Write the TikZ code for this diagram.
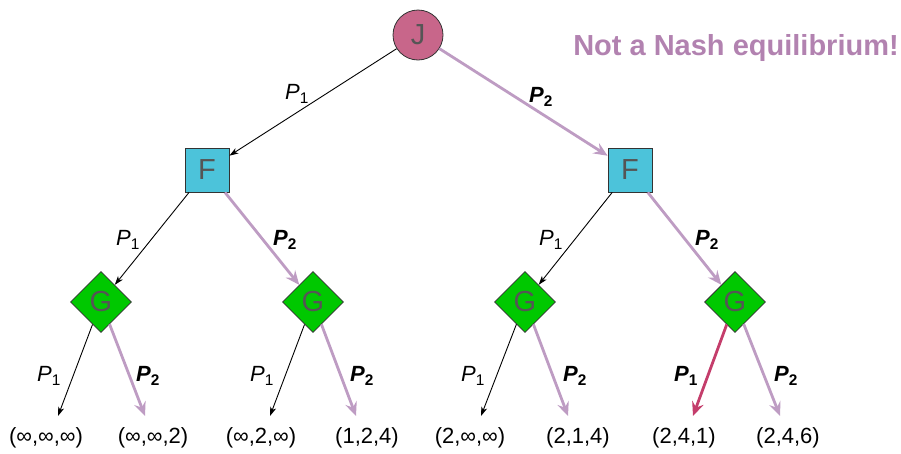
\documentclass[tikz,border=0pt]{standalone}
\usepackage{fontspec}
\setmainfont{Liberation Sans}
\usetikzlibrary{shapes.geometric,arrows.meta}
\definecolor{jfill}{HTML}{C8668A}
\definecolor{ffill}{HTML}{4CC3DA}
\definecolor{gfill}{HTML}{00C800}
\definecolor{purp}{HTML}{BE9CC3}
\definecolor{titlec}{HTML}{B282B0}
\definecolor{redarr}{HTML}{C43D6B}
\definecolor{ntext}{HTML}{555555}
\tikzset{
  x=1pt,y=-1pt,
  jnode/.style={circle,draw=black!80,line width=0.8pt,fill=jfill,minimum size=50pt,inner sep=0pt,text=ntext,font=\fontsize{29}{30}\selectfont},
  fnode/.style={rectangle,draw=black!80,line width=0.8pt,fill=ffill,minimum size=44pt,inner sep=0pt,text=ntext,font=\fontsize{29}{30}\selectfont},
  gnode/.style={diamond,draw=black!80,line width=0.8pt,fill=gfill,minimum width=61pt,minimum height=61pt,inner sep=0pt,aspect=1,text=ntext,font=\fontsize{29}{30}\selectfont},
  blk/.style={draw=black,line width=0.9pt,-{Stealth[length=9pt,width=6pt,inset=2.5pt]}},
  pur/.style={draw=purp,line width=2.8pt,-{Stealth[length=14pt,width=12pt,inset=5pt]}},
  redd/.style={draw=redarr,line width=2.8pt,-{Stealth[length=14pt,width=12pt,inset=5pt]}},
  lab/.style={font=\fontsize{22}{24}\selectfont,inner sep=0pt},
  leaf/.style={font=\fontsize{22}{24}\selectfont,inner sep=0pt},
}
\newcommand{\pone}{\textit{P}\textsubscript{1}}
\newcommand{\ptwo}{\textbf{\textit{P}\textsubscript{2}}}
\newcommand{\ponebf}{\textbf{\textit{P}\textsubscript{1}}}
\begin{document}
\begin{tikzpicture}
\useasboundingbox (0,0) rectangle (901,453);
% nodes
\node[jnode] (J) at (418,35) {J};
\node[fnode] (F1) at (207,170) {F};
\node[fnode] (F2) at (630,170) {F};
\node[gnode] (G1) at (101,302) {G};
\node[gnode] (G2) at (313,302) {G};
\node[gnode] (G3) at (525,302) {G};
\node[gnode] (G4) at (735,302) {G};
% arrow end points
\coordinate (e1) at (58,416);
\coordinate (e2) at (145,416);
\coordinate (e3) at (270,416);
\coordinate (e4) at (356,416);
\coordinate (e5) at (481,416);
\coordinate (e6) at (568,416);
\coordinate (e7) at (693,416);
\coordinate (e8) at (780,416);
% leaves
\node[leaf] (l1) at (46,438) {(∞,∞,∞)};
\node[leaf] (l2) at (153,438) {(∞,∞,2)};
\node[leaf] (l3) at (261,438) {(∞,2,∞)};
\node[leaf] (l4) at (367,438) {(1,2,4)};
\node[leaf] (l5) at (470,438) {(2,∞,∞)};
\node[leaf] (l6) at (578,438) {(2,1,4)};
\node[leaf] (l7) at (684,438) {(2,4,1)};
\node[leaf] (l8) at (788,438) {(2,4,6)};
% edges
\draw[blk] (J) -- (F1);
\draw[pur] (J) -- (F2);
\draw[blk] (F1) -- (G1);
\draw[pur] (F1) -- (G2);
\draw[blk] (F2) -- (G3);
\draw[pur] (F2) -- (G4);
\draw[blk] (G1) -- (e1);
\draw[pur] (G1) -- (e2);
\draw[blk] (G2) -- (e3);
\draw[pur] (G2) -- (e4);
\draw[blk] (G3) -- (e5);
\draw[pur] (G3) -- (e6);
\draw[redd] (G4) -- (e7);
\draw[pur] (G4) -- (e8);
% labels
\node[lab] (a1) at (297,94) {\pone};
\node[lab] (a2) at (541,97) {\ptwo};
\node[lab] (b1) at (128,240) {\pone};
\node[lab] (b2) at (285,240) {\ptwo};
\node[lab] (b3) at (551,240) {\pone};
\node[lab] (b4) at (707,240) {\ptwo};
\node[lab] (c1) at (49,376) {\pone};
\node[lab] (c2) at (148,376) {\ptwo};
\node[lab] (c3) at (262,376) {\pone};
\node[lab] (c4) at (362,376) {\ptwo};
\node[lab] (c5) at (473,376) {\pone};
\node[lab] (c6) at (575,376) {\ptwo};
\node[lab] (c7) at (686,376) {\ponebf};
\node[lab] (c8) at (786,376) {\ptwo};
\node[font=\fontsize{29}{31}\selectfont\bfseries,text=titlec,inner sep=0pt] (title) at (736,48) {Not a Nash equilibrium!};
\end{tikzpicture}
\end{document}
